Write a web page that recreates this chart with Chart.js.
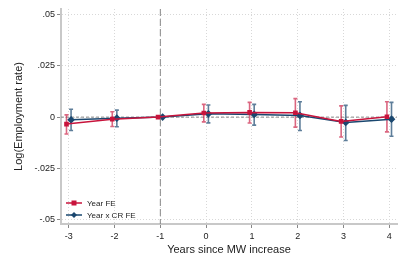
<!DOCTYPE html>
<html>
<head>
<meta charset="utf-8">
<script src="https://cdn.jsdelivr.net/npm/chart.js@4/dist/chart.umd.min.js"></script>
<style>
  html, body { margin: 0; padding: 0; background: #fff; }
  #wrap { position: relative; width: 407px; height: 271px; }
  #legend { position: absolute; left: 66px; top: 197px; font: 8px "Liberation Sans", Arial, sans-serif; color: #222; }
  #legend div { height: 12px; display: flex; align-items: center; }
  #legend canvas { margin-right: 5px; }
</style>
</head>
<body>
<div id="wrap">
  <canvas id="chart" width="407" height="271"></canvas>
  <div id="legend"></div>
</div>
<script>
// years relative to the minimum wage increase
const years = [-3, -2, -1, 0, 1, 2, 3, 4];

// Year FE: point estimates and 95% CI
const yearFE   = [-0.0034, -0.0010, 0, 0.0020, 0.0023, 0.0021, -0.0021, 0.0002];
const yearFELo = [-0.0082, -0.0046, 0, -0.0023, -0.0029, -0.0049, -0.0097, -0.0072];
const yearFEHi = [0.0011, 0.0026, 0, 0.0062, 0.0072, 0.0090, 0.0055, 0.0075];

// Year x CR FE
const crFE   = [-0.0013, -0.0005, 0, 0.0016, 0.0013, 0.0008, -0.0026, -0.0010];
const crFELo = [-0.0065, -0.0047, 0, -0.0028, -0.0039, -0.0065, -0.0114, -0.0093];
const crFEHi = [0.0038, 0.0034, 0, 0.0059, 0.0062, 0.0075, 0.0057, 0.0072];

const yTicks = [-0.05, -0.025, 0, 0.025, 0.05];
const yTickLabels = ['-.05', '-.025', '0', '.025', '.05'];
const xTicks = [-3, -2, -1, 0, 1, 2, 3, 4];
const seriesNames = ['Year FE', 'Year x CR FE'];
const refLineY = 0;
const refLineX = -1;

const RED = 'rgb(200, 20, 60)';
const RED_CI = 'rgba(200, 20, 60, 0.65)';
const BLUE = 'rgb(26, 71, 111)';
const BLUE_CI = 'rgba(26, 71, 111, 0.7)';
const shift = 0.05; // small horizontal offset so the bars don't overlap

const FONT = '"Liberation Sans", Arial, sans-serif';

function toPoints(vals, dx) {
  return years.map((t, i) => ({ x: t + dx, y: vals[i] }));
}

// error bars with caps, plus the two dashed reference lines
const errorBars = {
  id: 'errorBars',
  beforeDatasetsDraw(chart) {
    const { ctx, scales: { x, y }, chartArea } = chart;
    ctx.save();
    ctx.lineWidth = 1;
    ctx.strokeStyle = '#888';
    ctx.setLineDash([3, 2]);
    ctx.beginPath();
    ctx.moveTo(chartArea.left, y.getPixelForValue(refLineY));
    ctx.lineTo(chartArea.right, y.getPixelForValue(refLineY));
    ctx.stroke();
    ctx.setLineDash([7, 3]);
    ctx.beginPath();
    ctx.moveTo(x.getPixelForValue(refLineX), chartArea.top);
    ctx.lineTo(x.getPixelForValue(refLineX), chartArea.bottom);
    ctx.stroke();
    ctx.setLineDash([]);

    const sets = [
      { lo: yearFELo, hi: yearFEHi, dx: -shift, color: RED_CI },
      { lo: crFELo, hi: crFEHi, dx: shift, color: BLUE_CI }
    ];
    sets.forEach(s => {
      ctx.strokeStyle = s.color;
      ctx.lineWidth = 1.6;
      years.forEach((t, i) => {
        if (s.lo[i] === s.hi[i]) return;
        const px = x.getPixelForValue(t + s.dx);
        const y1 = y.getPixelForValue(s.lo[i]);
        const y2 = y.getPixelForValue(s.hi[i]);
        ctx.beginPath();
        ctx.moveTo(px, y1); ctx.lineTo(px, y2);
        ctx.moveTo(px - 2, y1); ctx.lineTo(px + 2, y1);
        ctx.moveTo(px - 2, y2); ctx.lineTo(px + 2, y2);
        ctx.stroke();
      });
    });
    ctx.restore();
  }
};

new Chart(document.getElementById('chart'), {
  type: 'line',
  data: {
    datasets: [{
      label: seriesNames[0],
      data: toPoints(yearFE, -shift),
      borderColor: RED,
      backgroundColor: RED,
      borderWidth: 1.5,
      pointStyle: 'rect',
      pointRadius: 2.2,
      tension: 0
    }, {
      label: seriesNames[1],
      data: toPoints(crFE, shift),
      borderColor: BLUE,
      backgroundColor: BLUE,
      borderWidth: 1.5,
      pointStyle: 'rectRot',
      pointRadius: 2.8,
      tension: 0
    }]
  },
  options: {
    responsive: false,
    animation: false,
    layout: { padding: { top: 9, right: 10, left: 0, bottom: 0 } },
    plugins: {
      legend: { display: false },
      tooltip: { enabled: false }
    },
    scales: {
      x: {
        type: 'linear',
        min: -3.17,
        max: 4.17,
        afterBuildTicks: s => { s.ticks = xTicks.map(v => ({ value: v })); },
        afterFit: s => { s.height = 47; },
        ticks: {
          font: { family: FONT, size: 9 },
          color: '#222',
          padding: 3,
          callback: v => String(v)
        },
        grid: {
          color: '#d8d8d8',
          lineWidth: 1,
          tickLength: 4,
          tickColor: '#888'
        },
        border: { display: true, color: '#c8c8c8', width: 2, dash: [1, 2] },
        title: {
          display: true,
          text: 'Years since MW increase',
          font: { family: FONT, size: 11 },
          color: '#222',
          padding: { top: 2, bottom: 14 }
        }
      },
      y: {
        type: 'linear',
        min: -0.0521,
        max: 0.0527,
        afterBuildTicks: s => { s.ticks = yTicks.map(v => ({ value: v })); },
        afterFit: s => { s.width = 61; },
        ticks: {
          font: { family: FONT, size: 9 },
          color: '#222',
          padding: 2,
          callback: (v) => yTickLabels[yTicks.indexOf(v)]
        },
        grid: {
          color: '#d8d8d8',
          lineWidth: 1,
          tickLength: 4,
          tickColor: '#888'
        },
        border: { display: true, color: '#c8c8c8', width: 2, dash: [1, 2] },
        title: {
          display: true,
          text: 'Log(Employment rate)',
          font: { family: FONT, size: 11 },
          color: '#222',
          padding: { top: 12, bottom: 0 }
        }
      }
    }
  },
  plugins: [errorBars]
});

// legend drawn as html so the labels stay real text
const legend = document.getElementById('legend');
[[RED, 'rect'], [BLUE, 'diamond']].forEach((m, i) => {
  const row = document.createElement('div');
  const c = document.createElement('canvas');
  c.width = 16; c.height = 8;
  const g = c.getContext('2d');
  g.strokeStyle = m[0]; g.fillStyle = m[0]; g.lineWidth = 1.5;
  g.beginPath(); g.moveTo(0, 4); g.lineTo(16, 4); g.stroke();
  g.beginPath();
  if (m[1] === 'rect') g.rect(5.5, 1.5, 5, 5);
  else { g.moveTo(8, 1); g.lineTo(11, 4); g.lineTo(8, 7); g.lineTo(5, 4); g.closePath(); }
  g.fill();
  const span = document.createElement('span');
  span.textContent = seriesNames[i];
  row.appendChild(c); row.appendChild(span);
  legend.appendChild(row);
});
</script>
</body>
</html>
